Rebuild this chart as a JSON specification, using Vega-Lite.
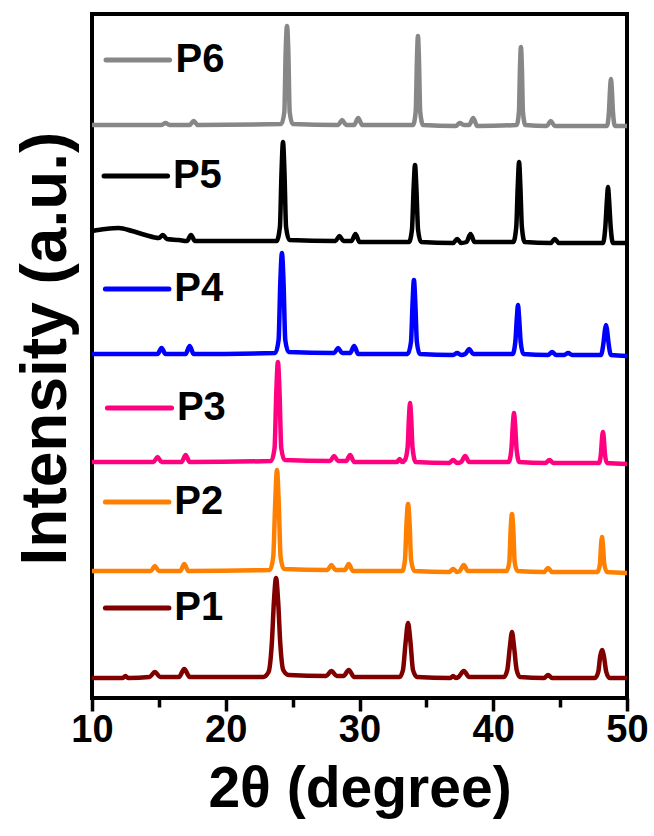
{
  "$schema": "https://vega.github.io/schema/vega-lite/v6.json",
  "width": 535,
  "height": 684,
  "autosize": "none",
  "padding": {"left": 92, "top": 14, "right": 27, "bottom": 138},
  "background": "white",
  "config": {
    "view": {"stroke": "black", "strokeWidth": 4},
    "font": "Liberation Sans"
  },
  "datasets": {
    "spectra": [
      {"s":"P1","x":10,"y":4},{"s":"P1","x":12.3,"y":4},{"s":"P1","x":12.5,"y":6},{"s":"P1","x":12.7,"y":4},{"s":"P1","x":14.3,"y":5},{"s":"P1","x":14.7,"y":10},{"s":"P1","x":15.1,"y":5},{"s":"P1","x":16.5,"y":5},{"s":"P1","x":16.9,"y":13},{"s":"P1","x":17.3,"y":5},{"s":"P1","x":22.8,"y":5},{"s":"P1","x":23.2,"y":10},{"s":"P1","x":23.45,"y":40},{"s":"P1","x":23.6,"y":80},{"s":"P1","x":23.76,"y":104},{"s":"P1","x":23.92,"y":80},{"s":"P1","x":24.07,"y":40},{"s":"P1","x":24.3,"y":12},{"s":"P1","x":24.7,"y":7},{"s":"P1","x":27.5,"y":6},{"s":"P1","x":27.9,"y":11},{"s":"P1","x":28.3,"y":6},{"s":"P1","x":28.8,"y":6},{"s":"P1","x":29.2,"y":12},{"s":"P1","x":29.6,"y":5},{"s":"P1","x":33.0,"y":5},{"s":"P1","x":33.25,"y":12},{"s":"P1","x":33.45,"y":40},{"s":"P1","x":33.63,"y":59},{"s":"P1","x":33.81,"y":40},{"s":"P1","x":34.0,"y":12},{"s":"P1","x":34.3,"y":5},{"s":"P1","x":36.8,"y":4},{"s":"P1","x":37.0,"y":6},{"s":"P1","x":37.2,"y":4},{"s":"P1","x":37.4,"y":5},{"s":"P1","x":37.8,"y":11},{"s":"P1","x":38.2,"y":5},{"s":"P1","x":40.8,"y":5},{"s":"P1","x":41.05,"y":12},{"s":"P1","x":41.25,"y":36},{"s":"P1","x":41.4,"y":50},{"s":"P1","x":41.55,"y":36},{"s":"P1","x":41.75,"y":12},{"s":"P1","x":42.0,"y":5},{"s":"P1","x":43.8,"y":4},{"s":"P1","x":44.1,"y":7},{"s":"P1","x":44.4,"y":4},{"s":"P1","x":47.6,"y":4},{"s":"P1","x":47.85,"y":10},{"s":"P1","x":48.0,"y":26},{"s":"P1","x":48.13,"y":32},{"s":"P1","x":48.27,"y":26},{"s":"P1","x":48.45,"y":10},{"s":"P1","x":48.7,"y":4},{"s":"P1","x":50,"y":4},

      {"s":"P2","x":10,"y":111},{"s":"P2","x":14.4,"y":111},{"s":"P2","x":14.7,"y":116},{"s":"P2","x":15.0,"y":111},{"s":"P2","x":16.6,"y":111},{"s":"P2","x":16.9,"y":118},{"s":"P2","x":17.2,"y":111},{"s":"P2","x":23.3,"y":112},{"s":"P2","x":23.55,"y":125},{"s":"P2","x":23.7,"y":180},{"s":"P2","x":23.83,"y":212},{"s":"P2","x":23.96,"y":180},{"s":"P2","x":24.1,"y":125},{"s":"P2","x":24.35,"y":113},{"s":"P2","x":27.6,"y":112},{"s":"P2","x":27.9,"y":117},{"s":"P2","x":28.2,"y":112},{"s":"P2","x":28.9,"y":112},{"s":"P2","x":29.2,"y":118},{"s":"P2","x":29.5,"y":111},{"s":"P2","x":33.2,"y":111},{"s":"P2","x":33.4,"y":122},{"s":"P2","x":33.52,"y":160},{"s":"P2","x":33.63,"y":178},{"s":"P2","x":33.74,"y":160},{"s":"P2","x":33.86,"y":122},{"s":"P2","x":34.1,"y":111},{"s":"P2","x":36.7,"y":110},{"s":"P2","x":37.0,"y":113},{"s":"P2","x":37.3,"y":110},{"s":"P2","x":37.5,"y":111},{"s":"P2","x":37.8,"y":117},{"s":"P2","x":38.1,"y":111},{"s":"P2","x":41.0,"y":111},{"s":"P2","x":41.2,"y":120},{"s":"P2","x":41.3,"y":152},{"s":"P2","x":41.4,"y":168},{"s":"P2","x":41.5,"y":152},{"s":"P2","x":41.6,"y":120},{"s":"P2","x":41.8,"y":111},{"s":"P2","x":43.8,"y":110},{"s":"P2","x":44.1,"y":114},{"s":"P2","x":44.4,"y":110},{"s":"P2","x":47.8,"y":110},{"s":"P2","x":47.98,"y":118},{"s":"P2","x":48.05,"y":135},{"s":"P2","x":48.13,"y":145},{"s":"P2","x":48.21,"y":135},{"s":"P2","x":48.3,"y":118},{"s":"P2","x":48.5,"y":110},{"s":"P2","x":50,"y":109},

      {"s":"P3","x":10,"y":220},{"s":"P3","x":14.6,"y":220},{"s":"P3","x":14.9,"y":225},{"s":"P3","x":15.2,"y":220},{"s":"P3","x":16.7,"y":220},{"s":"P3","x":17.0,"y":227},{"s":"P3","x":17.3,"y":220},{"s":"P3","x":23.4,"y":221},{"s":"P3","x":23.65,"y":234},{"s":"P3","x":23.78,"y":290},{"s":"P3","x":23.9,"y":320},{"s":"P3","x":24.02,"y":290},{"s":"P3","x":24.15,"y":234},{"s":"P3","x":24.4,"y":222},{"s":"P3","x":27.8,"y":221},{"s":"P3","x":28.1,"y":226},{"s":"P3","x":28.4,"y":221},{"s":"P3","x":29.0,"y":221},{"s":"P3","x":29.3,"y":227},{"s":"P3","x":29.6,"y":220},{"s":"P3","x":32.8,"y":220},{"s":"P3","x":33.0,"y":223},{"s":"P3","x":33.2,"y":220},{"s":"P3","x":33.4,"y":222},{"s":"P3","x":33.6,"y":235},{"s":"P3","x":33.7,"y":265},{"s":"P3","x":33.78,"y":279},{"s":"P3","x":33.86,"y":265},{"s":"P3","x":33.96,"y":235},{"s":"P3","x":34.2,"y":220},{"s":"P3","x":36.7,"y":219},{"s":"P3","x":37.0,"y":222},{"s":"P3","x":37.3,"y":219},{"s":"P3","x":37.6,"y":220},{"s":"P3","x":37.9,"y":226},{"s":"P3","x":38.2,"y":220},{"s":"P3","x":41.15,"y":220},{"s":"P3","x":41.35,"y":232},{"s":"P3","x":41.47,"y":258},{"s":"P3","x":41.55,"y":269},{"s":"P3","x":41.63,"y":258},{"s":"P3","x":41.75,"y":232},{"s":"P3","x":41.95,"y":220},{"s":"P3","x":43.9,"y":219},{"s":"P3","x":44.2,"y":222},{"s":"P3","x":44.5,"y":219},{"s":"P3","x":47.9,"y":219},{"s":"P3","x":48.05,"y":228},{"s":"P3","x":48.13,"y":243},{"s":"P3","x":48.2,"y":250},{"s":"P3","x":48.27,"y":243},{"s":"P3","x":48.35,"y":228},{"s":"P3","x":48.5,"y":219},{"s":"P3","x":50,"y":218},

      {"s":"P4","x":10,"y":328},{"s":"P4","x":14.9,"y":328},{"s":"P4","x":15.2,"y":334},{"s":"P4","x":15.5,"y":328},{"s":"P4","x":17.0,"y":328},{"s":"P4","x":17.3,"y":336},{"s":"P4","x":17.6,"y":328},{"s":"P4","x":23.7,"y":329},{"s":"P4","x":23.95,"y":342},{"s":"P4","x":24.08,"y":400},{"s":"P4","x":24.2,"y":429},{"s":"P4","x":24.32,"y":400},{"s":"P4","x":24.45,"y":342},{"s":"P4","x":24.7,"y":330},{"s":"P4","x":28.1,"y":329},{"s":"P4","x":28.4,"y":334},{"s":"P4","x":28.7,"y":329},{"s":"P4","x":29.3,"y":329},{"s":"P4","x":29.6,"y":336},{"s":"P4","x":29.9,"y":328},{"s":"P4","x":33.6,"y":328},{"s":"P4","x":33.85,"y":340},{"s":"P4","x":33.97,"y":380},{"s":"P4","x":34.07,"y":402},{"s":"P4","x":34.17,"y":380},{"s":"P4","x":34.29,"y":340},{"s":"P4","x":34.5,"y":328},{"s":"P4","x":37.0,"y":327},{"s":"P4","x":37.3,"y":329},{"s":"P4","x":37.6,"y":327},{"s":"P4","x":37.9,"y":328},{"s":"P4","x":38.2,"y":333},{"s":"P4","x":38.5,"y":328},{"s":"P4","x":41.45,"y":328},{"s":"P4","x":41.65,"y":340},{"s":"P4","x":41.77,"y":365},{"s":"P4","x":41.85,"y":377},{"s":"P4","x":41.93,"y":365},{"s":"P4","x":42.05,"y":340},{"s":"P4","x":42.25,"y":328},{"s":"P4","x":44.1,"y":327},{"s":"P4","x":44.4,"y":330},{"s":"P4","x":44.7,"y":327},{"s":"P4","x":45.3,"y":327},{"s":"P4","x":45.6,"y":329},{"s":"P4","x":45.9,"y":327},{"s":"P4","x":48.05,"y":327},{"s":"P4","x":48.25,"y":340},{"s":"P4","x":48.35,"y":352},{"s":"P4","x":48.43,"y":357},{"s":"P4","x":48.51,"y":352},{"s":"P4","x":48.61,"y":340},{"s":"P4","x":48.8,"y":327},{"s":"P4","x":50,"y":326},

      {"s":"P5","x":10,"y":451},{"s":"P5","x":11,"y":453},{"s":"P5","x":12,"y":454},{"s":"P5","x":13,"y":451},{"s":"P5","x":14,"y":447},{"s":"P5","x":15.0,"y":444},{"s":"P5","x":15.3,"y":447},{"s":"P5","x":15.6,"y":443},{"s":"P5","x":16.5,"y":442},{"s":"P5","x":17.1,"y":441},{"s":"P5","x":17.4,"y":447},{"s":"P5","x":17.7,"y":441},{"s":"P5","x":19,"y":441},{"s":"P5","x":23.8,"y":441},{"s":"P5","x":24.05,"y":455},{"s":"P5","x":24.17,"y":510},{"s":"P5","x":24.28,"y":540},{"s":"P5","x":24.39,"y":510},{"s":"P5","x":24.51,"y":455},{"s":"P5","x":24.75,"y":442},{"s":"P5","x":28.2,"y":441},{"s":"P5","x":28.5,"y":446},{"s":"P5","x":28.8,"y":441},{"s":"P5","x":29.4,"y":441},{"s":"P5","x":29.7,"y":448},{"s":"P5","x":30.0,"y":440},{"s":"P5","x":33.7,"y":440},{"s":"P5","x":33.92,"y":452},{"s":"P5","x":34.05,"y":495},{"s":"P5","x":34.15,"y":517},{"s":"P5","x":34.25,"y":495},{"s":"P5","x":34.38,"y":452},{"s":"P5","x":34.6,"y":440},{"s":"P5","x":37.0,"y":439},{"s":"P5","x":37.3,"y":443},{"s":"P5","x":37.6,"y":439},{"s":"P5","x":38.0,"y":440},{"s":"P5","x":38.3,"y":448},{"s":"P5","x":38.6,"y":440},{"s":"P5","x":41.5,"y":440},{"s":"P5","x":41.72,"y":455},{"s":"P5","x":41.83,"y":495},{"s":"P5","x":41.93,"y":520},{"s":"P5","x":42.03,"y":495},{"s":"P5","x":42.14,"y":455},{"s":"P5","x":42.35,"y":440},{"s":"P5","x":44.3,"y":439},{"s":"P5","x":44.6,"y":443},{"s":"P5","x":44.9,"y":439},{"s":"P5","x":48.2,"y":439},{"s":"P5","x":48.38,"y":455},{"s":"P5","x":48.5,"y":482},{"s":"P5","x":48.58,"y":495},{"s":"P5","x":48.66,"y":482},{"s":"P5","x":48.78,"y":455},{"s":"P5","x":48.95,"y":439},{"s":"P5","x":50,"y":439},

      {"s":"P6","x":10,"y":557},{"s":"P6","x":15.2,"y":557},{"s":"P6","x":15.5,"y":559},{"s":"P6","x":15.8,"y":557},{"s":"P6","x":17.3,"y":557},{"s":"P6","x":17.6,"y":561},{"s":"P6","x":17.9,"y":557},{"s":"P6","x":24.15,"y":558},{"s":"P6","x":24.38,"y":570},{"s":"P6","x":24.48,"y":630},{"s":"P6","x":24.58,"y":656},{"s":"P6","x":24.68,"y":630},{"s":"P6","x":24.78,"y":570},{"s":"P6","x":25.0,"y":558},{"s":"P6","x":28.4,"y":557},{"s":"P6","x":28.7,"y":562},{"s":"P6","x":29.0,"y":557},{"s":"P6","x":29.6,"y":557},{"s":"P6","x":29.9,"y":564},{"s":"P6","x":30.2,"y":557},{"s":"P6","x":34.0,"y":557},{"s":"P6","x":34.2,"y":570},{"s":"P6","x":34.3,"y":625},{"s":"P6","x":34.37,"y":646},{"s":"P6","x":34.44,"y":625},{"s":"P6","x":34.54,"y":570},{"s":"P6","x":34.75,"y":557},{"s":"P6","x":37.2,"y":556},{"s":"P6","x":37.5,"y":559},{"s":"P6","x":37.8,"y":557},{"s":"P6","x":38.2,"y":557},{"s":"P6","x":38.5,"y":564},{"s":"P6","x":38.8,"y":556},{"s":"P6","x":41.75,"y":557},{"s":"P6","x":41.92,"y":570},{"s":"P6","x":42.0,"y":615},{"s":"P6","x":42.07,"y":635},{"s":"P6","x":42.14,"y":615},{"s":"P6","x":42.22,"y":570},{"s":"P6","x":42.4,"y":557},{"s":"P6","x":44.0,"y":556},{"s":"P6","x":44.3,"y":561},{"s":"P6","x":44.6,"y":556},{"s":"P6","x":48.5,"y":556},{"s":"P6","x":48.65,"y":570},{"s":"P6","x":48.73,"y":592},{"s":"P6","x":48.8,"y":603},{"s":"P6","x":48.87,"y":592},{"s":"P6","x":48.95,"y":570},{"s":"P6","x":49.1,"y":556},{"s":"P6","x":50,"y":556}
    ],
    "keys": [
      {"s":"P6","x1":11.05,"x2":15.8,"tx":16.25,"y":622},
      {"s":"P5","x1":10.9,"x2":15.65,"tx":16.05,"y":506},
      {"s":"P4","x1":11.0,"x2":15.75,"tx":16.15,"y":393},
      {"s":"P3","x1":11.15,"x2":15.95,"tx":16.35,"y":274},
      {"s":"P2","x1":11.0,"x2":15.75,"tx":16.15,"y":180},
      {"s":"P1","x1":11.0,"x2":15.75,"tx":16.15,"y":74}
    ]
  },
  "layer": [
    {
      "data": {"name": "spectra"},
      "mark": {"type": "line", "strokeWidth": 4.5, "interpolate": "monotone", "strokeJoin": "round", "strokeCap": "butt"},
      "encoding": {
        "x": {
          "field": "x", "type": "quantitative",
          "scale": {"domain": [10, 50], "nice": false},
          "axis": {
            "values": [10, 15, 20, 25, 30, 35, 40, 45, 50],
            "labelExpr": "datum.value % 10 === 0 ? datum.label : ''",
            "grid": false, "domain": false,
            "tickColor": "black", "tickWidth": 3.5,
            "tickSize": {"condition": {"test": "datum.value % 10 !== 0", "value": 9}, "value": 13},
            "labelFont": "Liberation Sans", "labelFontWeight": "bold", "labelFontSize": 38, "labelColor": "black",
            "labelPadding": 0, "labelFlush": false, "labelOverlap": false,
            "title": "2θ (degree)", "titleFont": "Liberation Sans", "titleFontWeight": "bold", "titleFontSize": 57,
            "titleColor": "black", "titlePadding": 12
          }
        },
        "y": {
          "field": "y", "type": "quantitative",
          "scale": {"domain": [-16, 668], "nice": false, "zero": false},
          "axis": {
            "labels": false, "ticks": false, "grid": false, "domain": false,
            "title": "Intensity (a.u.)", "titleFont": "Liberation Sans", "titleFontWeight": "bold", "titleFontSize": 64,
            "titleColor": "black", "titlePadding": 14, "titleY": 334
          }
        },
        "color": {
          "field": "s", "type": "nominal",
          "scale": {"domain": ["P1","P2","P3","P4","P5","P6"], "range": ["#800000","#ff8000","#ff0080","#0000ff","#000000","#878787"]},
          "legend": null
        },
        "detail": {"field": "s"}
      }
    },
    {
      "data": {"name": "keys"},
      "mark": {"type": "rule", "strokeWidth": 5, "strokeCap": "round"},
      "encoding": {
        "x": {"field": "x1", "type": "quantitative"},
        "x2": {"field": "x2"},
        "y": {"field": "y", "type": "quantitative"},
        "color": {"field": "s", "type": "nominal", "legend": null}
      }
    },
    {
      "data": {"name": "keys"},
      "mark": {"type": "text", "font": "Liberation Sans", "fontWeight": "bold", "fontSize": 40, "align": "left", "baseline": "middle", "color": "black"},
      "encoding": {
        "x": {"field": "tx", "type": "quantitative"},
        "y": {"field": "y", "type": "quantitative"},
        "text": {"field": "s"}
      }
    }
  ]
}
